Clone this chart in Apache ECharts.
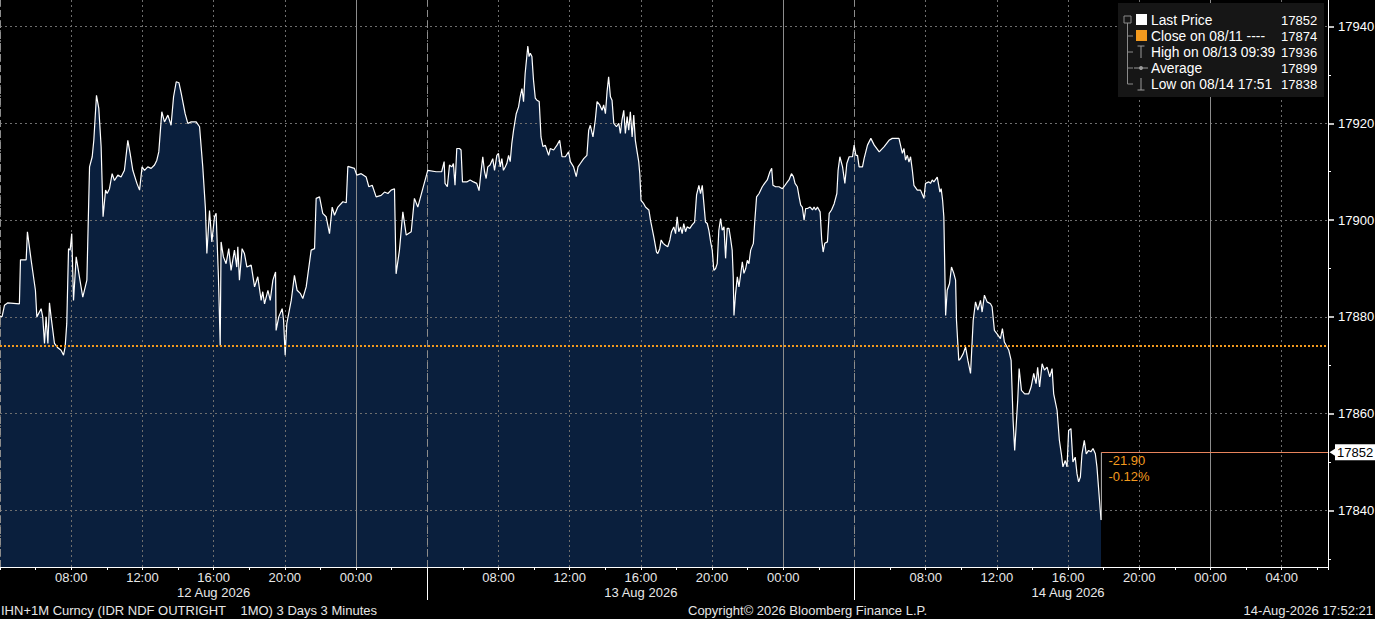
<!DOCTYPE html>
<html><head><meta charset="utf-8">
<script src="https://cdn.jsdelivr.net/npm/echarts@6/dist/echarts.min.js"></script>
<style>html,body{margin:0;padding:0;background:#000;}#c{width:1375px;height:619px;}</style>
</head><body><div id="c"></div>
<script>
// x values: hours since 12 Aug 2026 00:00
const aug12 = [[4.00,17880.0],[4.12,17880.1],[4.25,17882.4],[4.44,17882.9],[5.09,17882.7],[5.15,17891.8],[5.47,17891.8],[5.54,17897.6],[5.75,17891.7],[5.99,17885.5],[6.07,17880.0],[6.31,17881.7],[6.40,17880.0],[6.50,17874.5],[6.59,17880.0],[6.69,17874.5],[6.78,17882.9],[6.87,17880.0],[7.06,17874.5],[7.25,17873.6],[7.43,17873.1],[7.57,17872.1],[7.66,17873.8],[7.75,17878.6],[7.85,17894.1],[7.94,17893.8],[8.03,17897.2],[8.13,17883.4],[8.28,17892.4],[8.46,17888.3],[8.65,17884.1],[8.88,17887.6],[9.03,17911.0],[9.18,17913.1],[9.27,17916.5],[9.42,17925.8],[9.55,17923.1],[9.68,17915.2],[9.79,17900.7],[9.93,17906.2],[10.02,17905.5],[10.15,17906.5],[10.30,17909.6],[10.43,17908.2],[10.62,17909.3],[10.80,17908.9],[10.99,17910.3],[11.18,17916.5],[11.31,17913.8],[11.46,17910.3],[11.69,17907.6],[11.84,17906.2],[11.98,17911.0],[12.12,17910.3],[12.30,17911.0],[12.49,17910.7],[12.68,17911.4],[12.81,17912.4],[12.92,17914.1],[13.09,17922.4],[13.24,17920.3],[13.43,17921.7],[13.61,17919.6],[13.75,17925.5],[13.90,17928.6],[14.05,17928.4],[14.18,17926.2],[14.40,17922.0],[14.55,17920.0],[14.74,17920.3],[15.02,17920.3],[15.21,17919.3],[15.39,17911.0],[15.54,17902.4],[15.62,17893.1],[15.77,17902.0],[15.90,17895.5],[16.05,17900.7],[16.14,17901.4],[16.27,17888.3],[16.37,17874.1],[16.42,17895.5],[16.55,17892.4],[16.70,17891.0],[16.85,17894.1],[16.98,17889.6],[17.17,17893.8],[17.30,17890.3],[17.36,17894.5],[17.45,17887.6],[17.60,17894.1],[17.73,17893.1],[17.87,17890.3],[18.11,17890.7],[18.30,17886.2],[18.48,17888.3],[18.67,17883.4],[18.76,17885.2],[18.86,17882.7],[19.05,17885.5],[19.18,17883.4],[19.33,17887.6],[19.48,17889.3],[19.51,17877.2],[19.66,17880.0],[19.85,17881.7],[19.93,17879.3],[20.02,17872.1],[20.11,17878.6],[20.36,17883.4],[20.54,17888.6],[20.69,17885.5],[20.88,17884.8],[21.01,17883.8],[21.20,17886.2],[21.48,17893.8],[21.67,17894.1],[21.76,17904.5],[21.95,17904.8],[22.13,17901.4],[22.32,17900.7],[22.51,17897.2],[22.66,17902.7],[22.79,17901.0],[22.98,17902.7],[23.26,17903.8],[23.45,17903.6],[23.54,17911.1],[23.91,17910.7]];
const aug13 = [[24.04,17909.3],[24.29,17909.6],[24.57,17908.9],[24.72,17906.9],[24.91,17907.2],[25.13,17904.8],[25.41,17905.1],[25.60,17905.8],[25.79,17905.5],[25.97,17906.2],[26.16,17906.5],[26.25,17888.9],[26.44,17893.8],[26.63,17901.7],[26.82,17896.9],[27.10,17897.6],[27.28,17904.5],[27.47,17902.7],[27.75,17906.5],[28.03,17910.3],[28.50,17910.0],[28.72,17910.0],[28.81,17910.0],[28.95,17912.1],[29.00,17907.6],[29.13,17906.9],[29.25,17911.4],[29.38,17911.0],[29.47,17911.7],[29.56,17907.2],[29.66,17914.8],[29.81,17914.8],[29.90,17914.5],[29.98,17907.9],[30.22,17907.9],[30.41,17908.3],[30.60,17907.9],[30.78,17907.6],[30.91,17906.1],[31.01,17909.6],[31.12,17913.1],[31.22,17910.0],[31.31,17908.6],[31.40,17911.0],[31.53,17911.4],[31.68,17912.7],[31.78,17910.3],[31.91,17913.4],[32.00,17913.8],[32.10,17911.0],[32.19,17912.7],[32.28,17910.3],[32.38,17911.0],[32.47,17911.7],[32.57,17913.4],[32.66,17912.1],[32.75,17915.8],[32.85,17918.6],[33.00,17922.0],[33.13,17923.4],[33.22,17925.5],[33.32,17927.2],[33.41,17924.5],[33.50,17930.3],[33.65,17936.0],[33.72,17933.8],[33.79,17934.5],[33.88,17933.8],[33.97,17928.9],[34.07,17925.2],[34.16,17924.8],[34.29,17924.5],[34.39,17917.2],[34.50,17915.2],[34.63,17915.5],[34.82,17913.4],[34.91,17914.8],[35.10,17914.5],[35.29,17915.5],[35.44,17916.5],[35.57,17913.1],[35.76,17913.1],[35.94,17914.1],[36.04,17912.1],[36.22,17911.0],[36.37,17909.0],[36.47,17911.0],[36.60,17911.7],[36.79,17912.7],[36.97,17913.4],[37.07,17918.6],[37.16,17919.6],[37.31,17917.2],[37.44,17920.7],[37.54,17924.5],[37.69,17923.8],[37.82,17922.7],[37.91,17923.8],[38.01,17922.0],[38.10,17926.5],[38.19,17929.6],[38.29,17925.5],[38.38,17924.8],[38.48,17920.0],[38.63,17919.3],[38.76,17920.0],[38.85,17917.9],[38.94,17920.7],[39.04,17922.7],[39.13,17917.9],[39.23,17921.4],[39.32,17918.6],[39.41,17922.4],[39.51,17917.2],[39.60,17921.7],[39.69,17916.5],[39.79,17914.1],[39.88,17912.1],[39.94,17909.6],[40.01,17904.1],[40.16,17903.4],[40.26,17902.7],[40.45,17902.1],[40.54,17900.0],[40.73,17896.5],[40.88,17893.4],[40.95,17893.1],[41.06,17894.1],[41.14,17895.9],[41.25,17895.2],[41.38,17894.8],[41.51,17894.5],[41.63,17895.9],[41.72,17897.6],[41.85,17898.6],[41.95,17897.2],[42.04,17900.7],[42.13,17897.6],[42.23,17898.6],[42.32,17897.2],[42.41,17899.3],[42.51,17897.6],[42.60,17898.6],[42.75,17898.3],[42.88,17899.0],[43.02,17899.6],[43.13,17905.2],[43.26,17907.2],[43.35,17905.5],[43.45,17907.2],[43.54,17903.4],[43.63,17899.6],[43.73,17899.3],[43.82,17897.9],[43.92,17895.5],[44.01,17893.8],[44.10,17889.6],[44.20,17890.0],[44.29,17891.0],[44.38,17897.9],[44.48,17900.3],[44.57,17897.9],[44.67,17898.6],[44.76,17892.1],[44.85,17898.3],[44.95,17898.3],[45.04,17896.2],[45.13,17893.8],[45.19,17888.3],[45.23,17880.3],[45.32,17884.8],[45.42,17888.3],[45.51,17886.2],[45.60,17888.6],[45.70,17891.4],[45.79,17889.0],[45.89,17890.0],[45.98,17891.7],[46.07,17891.0],[46.17,17893.8],[46.32,17895.2],[46.39,17899.3],[46.50,17904.8],[46.64,17905.5],[46.82,17906.9],[46.95,17907.6],[47.10,17908.3],[47.25,17910.0],[47.35,17910.7],[47.42,17907.2],[47.57,17906.9],[47.76,17906.9],[47.95,17906.5]];
const aug14 = [[48.04,17906.9],[48.23,17907.9],[48.32,17908.3],[48.46,17909.6],[48.57,17909.0],[48.66,17907.6],[48.79,17906.9],[48.89,17904.8],[48.98,17903.1],[49.07,17902.7],[49.17,17900.0],[49.26,17902.4],[49.36,17902.4],[49.51,17902.7],[49.64,17902.1],[49.73,17902.7],[49.82,17902.1],[49.92,17902.7],[50.07,17901.7],[50.16,17895.9],[50.24,17893.4],[50.33,17895.2],[50.48,17895.5],[50.58,17901.4],[50.71,17902.1],[50.86,17903.4],[51.01,17905.5],[51.08,17910.3],[51.18,17913.1],[51.33,17911.0],[51.46,17907.6],[51.57,17911.7],[51.70,17913.1],[51.89,17913.1],[51.98,17915.5],[52.08,17913.4],[52.17,17913.4],[52.26,17911.0],[52.45,17911.0],[52.54,17912.7],[52.73,17915.5],[52.92,17916.9],[53.11,17915.5],[53.39,17914.1],[53.67,17915.2],[53.94,17916.5],[54.12,17916.9],[54.50,17916.9],[54.69,17913.8],[54.78,17914.8],[54.87,17912.4],[54.97,17913.4],[55.06,17912.0],[55.15,17913.1],[55.25,17910.3],[55.34,17907.2],[55.53,17906.2],[55.71,17906.2],[55.90,17904.5],[55.99,17907.6],[56.18,17907.9],[56.27,17907.6],[56.37,17908.3],[56.46,17907.9],[56.65,17908.9],[56.80,17905.8],[56.87,17906.5],[56.95,17904.1],[57.02,17900.7],[57.12,17880.3],[57.21,17885.5],[57.34,17886.9],[57.45,17890.3],[57.58,17889.0],[57.68,17887.6],[57.73,17879.3],[57.86,17871.0],[57.96,17871.4],[58.11,17872.4],[58.24,17873.8],[58.37,17871.0],[58.52,17868.3],[58.67,17879.3],[58.80,17883.1],[58.93,17881.4],[59.08,17883.4],[59.17,17881.0],[59.30,17884.5],[59.45,17883.1],[59.64,17882.7],[59.73,17882.1],[59.86,17877.2],[60.01,17876.5],[60.20,17875.5],[60.31,17877.6],[60.42,17874.8],[60.67,17873.1],[60.80,17871.0],[60.91,17858.6],[61.00,17852.4],[61.10,17858.6],[61.17,17862.8],[61.25,17869.3],[61.38,17864.8],[61.56,17864.1],[61.79,17864.1],[61.92,17865.5],[62.07,17868.3],[62.20,17866.2],[62.29,17869.6],[62.40,17865.5],[62.54,17870.3],[62.67,17869.0],[62.82,17869.6],[62.97,17867.6],[63.10,17869.3],[63.19,17864.1],[63.38,17860.7],[63.51,17854.5],[63.62,17851.7],[63.71,17849.0],[63.84,17850.3],[63.94,17849.0],[64.03,17856.5],[64.16,17856.9],[64.27,17850.0],[64.40,17851.0],[64.50,17847.6],[64.59,17845.9],[64.69,17846.9],[64.78,17851.7],[64.91,17854.5],[65.02,17851.7],[65.15,17852.4],[65.28,17852.1],[65.40,17852.8],[65.53,17851.7],[65.62,17849.0],[65.85,17838.0]];

const yTicks = [17840, 17860, 17880, 17900, 17920, 17940];
const yMinorTicks = [17830, 17850, 17870, 17890, 17910, 17930];
const xLabelHours = [8, 12, 16, 20, 24, 32, 36, 40, 44, 48, 56, 60, 64, 68, 72, 76];
const xLabelTexts = ['08:00','12:00','16:00','20:00','00:00','08:00','12:00','16:00','20:00','00:00','08:00','12:00','16:00','20:00','00:00','04:00'];
const dateHours = [16, 40, 64];
const dateLabels = ['12 Aug 2026', '13 Aug 2026', '14 Aug 2026'];
const midnightHours = [24, 48, 72];
const sessionStartHours = [4, 28, 52];
const sessionSeparatorHours = [28, 52];
const closePrice = 17874;
const lastTime = 65.87;
const lastPrice = 17852;
const lowPrice = 17838;
const changeTexts = ['-21.90', '-0.12%'];
const legendLabels = ['Last Price', 'Close on 08/11 ----', 'High on 08/13 09:39', 'Average', 'Low on 08/14 17:51'];
const legendValues = ['17852', '17874', '17936', '17899', '17838'];
const footerLeft = 'IHN+1M Curncy (IDR NDF OUTRIGHT\u00a0\u00a0\u00a0\u00a01MO) 3 Days 3 Minutes';
const footerCenter = 'Copyright\u00a9 2026 Bloomberg Finance L.P.';
const footerRight = '14-Aug-2026 17:52:21';

const X_MIN = 4, X_MAX = 78.6, Y_MIN = 17828.3, Y_MAX = 17945.5;
const FONT = '"Liberation Sans", Arial, sans-serif';
const ORANGE = '#f39a1e';
const priceData = aug12.concat(aug13, aug14);

const chart = echarts.init(document.getElementById('c'), null, {renderer: 'svg'});

const gridMarks = []
  .concat(yTicks.map(v => ({yAxis: v, lineStyle: {type: [2, 3], color: '#6e6e6e', width: 1}})))
  .concat(midnightHours.map(v => ({xAxis: v, lineStyle: {type: 'solid', color: '#8c8c8c', width: 1}})))
  .concat(sessionStartHours.map(v => ({xAxis: v, lineStyle: {type: [7, 4], color: '#8c8c8c', width: 1}})));

// legend graphic
const legendEls = [];
const LX = 1118, LY = 3, rowH = 16, row0 = 20, LZ = 200;
legendEls.push({type: 'rect', z: LZ, shape: {x: LX, y: LY, width: 206, height: 94}, style: {fill: '#161616'}});
legendEls.push({type: 'rect', z: LZ + 1, shape: {x: LX + 6, y: row0 - 4, width: 7, height: 7}, style: {fill: 'none', stroke: '#8a8a8a', lineWidth: 1}});
legendEls.push({type: 'line', z: LZ + 1, shape: {x1: LX + 9.5, y1: row0 + 3, x2: LX + 9.5, y2: row0 + 4 * rowH}, style: {stroke: '#8a8a8a', lineWidth: 1}});
for (let i = 1; i < 5; i++) {
  legendEls.push({type: 'line', z: LZ + 1, shape: {x1: LX + 9.5, y1: row0 + i * rowH, x2: LX + 15, y2: row0 + i * rowH}, style: {stroke: '#8a8a8a', lineWidth: 1}});
}
const ix = LX + 23;
legendEls.push({type: 'rect', z: LZ + 1, shape: {x: ix - 5, y: row0 - 6, width: 11, height: 11}, style: {fill: '#ffffff'}});
legendEls.push({type: 'rect', z: LZ + 1, shape: {x: ix - 5, y: row0 + rowH - 6, width: 11, height: 11}, style: {fill: ORANGE}});
legendEls.push({type: 'line', z: LZ + 1, shape: {x1: ix - 3.5, y1: row0 + 2 * rowH - 6, x2: ix + 3.5, y2: row0 + 2 * rowH - 6}, style: {stroke: '#9a9a9a', lineWidth: 1}});
legendEls.push({type: 'line', z: LZ + 1, shape: {x1: ix, y1: row0 + 2 * rowH - 6, x2: ix, y2: row0 + 2 * rowH + 6}, style: {stroke: '#9a9a9a', lineWidth: 1}});
legendEls.push({type: 'line', z: LZ + 1, shape: {x1: ix - 7, y1: row0 + 3 * rowH, x2: ix + 7, y2: row0 + 3 * rowH}, style: {stroke: '#9a9a9a', lineWidth: 1}});
legendEls.push({type: 'circle', z: LZ + 1, shape: {cx: ix, cy: row0 + 3 * rowH, r: 2}, style: {fill: '#9a9a9a'}});
legendEls.push({type: 'line', z: LZ + 1, shape: {x1: ix, y1: row0 + 4 * rowH - 6, x2: ix, y2: row0 + 4 * rowH + 6}, style: {stroke: '#9a9a9a', lineWidth: 1}});
legendEls.push({type: 'line', z: LZ + 1, shape: {x1: ix - 3.5, y1: row0 + 4 * rowH + 6, x2: ix + 3.5, y2: row0 + 4 * rowH + 6}, style: {stroke: '#9a9a9a', lineWidth: 1}});
legendLabels.forEach((t, i) => {
  legendEls.push({type: 'text', z: LZ + 2, x: LX + 33, y: row0 + i * rowH, style: {text: t, fill: '#ffffff', font: '13.8px ' + FONT, textVerticalAlign: 'middle'}});
  legendEls.push({type: 'text', z: LZ + 2, x: LX + 163, y: row0 + i * rowH, style: {text: legendValues[i], fill: '#ffffff', font: '13px ' + FONT, textVerticalAlign: 'middle'}});
});

const option = {
  backgroundColor: '#000000',
  animation: false,
  grid: {left: 0, right: 47, top: 0, bottom: 52, containLabel: false, outerBoundsMode: 'none'},
  xAxis: [{
    type: 'value', min: X_MIN, max: X_MAX, interval: 4, z: 2,
    axisLine: {show: true, lineStyle: {color: '#ffffff', width: 1}},
    axisTick: {show: true, length: 3, lineStyle: {color: '#ffffff'}},
    minorTick: {show: true, splitNumber: 2, length: 3, lineStyle: {color: '#ffffff'}},
    splitLine: {show: true, lineStyle: {type: [2, 3], color: '#6e6e6e', width: 1}},
    axisLabel: {
      color: '#e8e8e8', fontSize: 13, fontFamily: FONT, margin: 3, lineHeight: 15,
      formatter: v => {
        const i = xLabelHours.indexOf(v);
        if (i < 0) return '';
        let s = xLabelTexts[i];
        const d = dateHours.indexOf(v);
        if (d >= 0) s += '\n' + dateLabels[d];
        return s;
      }
    }
  }, {
    type: 'value', min: X_MIN, max: X_MAX, position: 'bottom', gridIndex: 0,
    axisLine: {show: false}, axisLabel: {show: false}, splitLine: {show: false},
    axisTick: {show: true, customValues: sessionSeparatorHours, length: 33, lineStyle: {color: '#ffffff', width: 1}}
  }],
  yAxis: [{
    type: 'value', min: Y_MIN, max: Y_MAX, position: 'right', z: 5,
    axisLine: {show: true, lineStyle: {color: '#ffffff', width: 1}},
    axisTick: {show: true, customValues: yTicks, length: 6, lineStyle: {color: '#ffffff', width: 1.5}},
    axisLabel: {show: true, customValues: yTicks, color: '#ffffff', fontSize: 13, fontFamily: FONT, margin: 10,
      formatter: v => String(Math.round(v))},
    splitLine: {show: false}
  }, {
    type: 'value', min: Y_MIN, max: Y_MAX, position: 'right',
    axisLine: {show: false}, axisLabel: {show: false}, splitLine: {show: false},
    axisTick: {show: true, customValues: yMinorTicks, length: 3, lineStyle: {color: '#ffffff', width: 1}}
  }],
  graphic: [
    {type: 'group', z: LZ, children: legendEls},
    {type: 'text', z: 100, x: 1, y: 610, style: {text: footerLeft, fill: '#e6e6e6', font: '13px ' + FONT, textVerticalAlign: 'middle'}},
    {type: 'text', z: 100, x: 688, y: 610, style: {text: footerCenter, fill: '#e6e6e6', font: '13px ' + FONT, textVerticalAlign: 'middle'}},
    {type: 'text', z: 100, x: 1373, y: 610, style: {text: footerRight, fill: '#e6e6e6', font: '13px ' + FONT, textVerticalAlign: 'middle', textAlign: 'right'}}
  ],
  series: [{
    name: 'area', type: 'line', data: priceData, z: 1, silent: true,
    showSymbol: false, symbol: 'none',
    lineStyle: {width: 0, opacity: 0},
    areaStyle: {color: '#0a1f3d', opacity: 1, origin: 'start'}
  }, {
    name: 'grid', type: 'line', data: [], z: 2, silent: true,
    markLine: {silent: true, symbol: 'none', z: 2, label: {show: false}, data: gridMarks}
  }, {
    name: 'Last Price', type: 'line', data: priceData, z: 3,
    showSymbol: false, symbol: 'none',
    lineStyle: {color: '#ffffff', width: 1.2},
    markLine: {
      silent: true, symbol: 'none', z: 4, label: {show: false},
      data: [{yAxis: closePrice, lineStyle: {color: ORANGE, type: [2, 2], width: 2}}]
    }
  }, {
    name: 'lastLink', type: 'line', data: [[lastTime, lowPrice], [lastTime, lastPrice]], z: 4,
    showSymbol: false, symbol: 'none', silent: true,
    lineStyle: {color: '#b8b8b8', width: 1},
    markLine: {
      silent: true, symbol: 'none', z: 6,
      data: [[
        {coord: [lastTime, lastPrice], lineStyle: {color: '#e8845c', width: 1, type: 'solid'}},
        {coord: [X_MAX, lastPrice]}
      ]],
      label: {
        show: true, position: 'end', distance: 7, formatter: String(lastPrice),
        backgroundColor: '#ffffff', color: '#000000', fontSize: 13, fontFamily: FONT,
        padding: [2, 2, 1, 2]
      }
    },
    markPoint: {
      silent: true, z: 7,
      data: [{
        coord: [lastTime, lastPrice], symbol: 'rect', symbolSize: 0,
        label: {show: true, position: 'right', distance: 7, offset: [0, 16],
          formatter: changeTexts.join('\n'), color: ORANGE, fontSize: 13, fontFamily: FONT, lineHeight: 16, align: 'left'}
      }, {
        coord: [X_MAX, lastPrice], symbol: 'triangle', symbolRotate: 90, symbolSize: [9, 7], symbolOffset: [5, 0],
        itemStyle: {color: '#ffffff'}, label: {show: false}
      }]
    }
  }]
};
chart.setOption(option);
</script>
</body></html>
